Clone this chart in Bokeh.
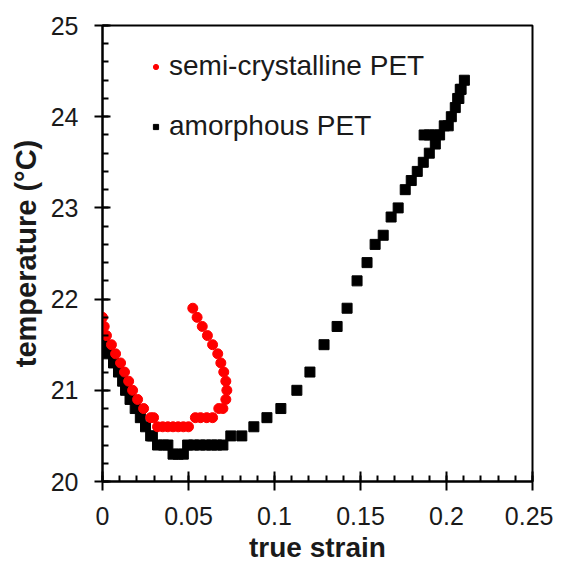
import numpy as np
from bokeh.plotting import figure
from bokeh.models import FixedTicker, Range1d, Legend, LegendItem
from bokeh.embed import file_html
from bokeh.resources import INLINE

# ---- data ----
semi_strain = [0.000, 0.001, 0.0023, 0.0052, 0.0076, 0.0105, 0.0128, 0.0152, 0.0175,
               0.0204, 0.0239, 0.028, 0.0297,
               0.032, 0.035, 0.038, 0.041, 0.044, 0.047, 0.050,
               0.054, 0.057, 0.0606, 0.064,
               0.0676, 0.070, 0.0717, 0.0723, 0.0717, 0.0705, 0.0688, 0.067,
               0.064, 0.061, 0.058, 0.055, 0.0525]
semi_temp = [21.8, 21.7, 21.6, 21.5, 21.4, 21.3, 21.2, 21.1, 21.0,
             20.9, 20.8, 20.7, 20.7,
             20.6, 20.6, 20.6, 20.6, 20.6, 20.6, 20.6,
             20.7, 20.7, 20.7, 20.7,
             20.8, 20.8, 20.9, 21.0, 21.1, 21.2, 21.3, 21.4,
             21.5, 21.6, 21.7, 21.8, 21.9]

amor_strain = [0.001, 0.003, 0.0064, 0.0093, 0.0117, 0.0134, 0.016, 0.019, 0.022, 0.025,
               0.028, 0.029, 0.032, 0.0355, 0.038,
               0.041, 0.044, 0.047,
               0.0495, 0.053, 0.0566, 0.060, 0.0635, 0.0664, 0.070,
               0.0746, 0.081, 0.088, 0.0956, 0.1037, 0.113, 0.1206, 0.1288, 0.1364,
               0.1422, 0.148, 0.1538, 0.1585, 0.1632, 0.1678, 0.1719, 0.176, 0.1795,
               0.183, 0.1865, 0.190, 0.1935,
               0.187, 0.190, 0.193, 0.196,
               0.1987, 0.201, 0.2028, 0.2051, 0.2065, 0.2072, 0.208, 0.2085, 0.2104]
amor_temp = [21.5, 21.4, 21.3, 21.2, 21.1, 21.0, 20.9, 20.8, 20.7, 20.6,
             20.5, 20.5, 20.4, 20.4, 20.4,
             20.3, 20.3, 20.3,
             20.4, 20.4, 20.4, 20.4, 20.4, 20.4, 20.4,
             20.5, 20.5, 20.6, 20.7, 20.8, 21.0, 21.2, 21.5, 21.7,
             21.9, 22.2, 22.4, 22.6, 22.7, 22.9, 23.0, 23.2, 23.3,
             23.4, 23.5, 23.6, 23.7,
             23.8, 23.8, 23.8, 23.8,
             23.9, 23.9, 24.0, 24.1, 24.2, 24.2, 24.3, 24.3, 24.4]

x_ticks = [0, 0.05, 0.1, 0.15, 0.2, 0.25]
x_tick_labels = ["0", "0.05", "0.1", "0.15", "0.2", "0.25"]
y_ticks = [20, 21, 22, 23, 24, 25]
y_tick_labels = ["20", "21", "22", "23", "24", "25"]

FONT = "Liberation Sans"

p = figure(width=553, height=565, output_backend="svg", toolbar_location=None,
           x_range=Range1d(0, 0.25), y_range=Range1d(20, 25),
           min_border_left=102, min_border_right=21, min_border_top=25,
           min_border_bottom=83)
p.grid.visible = False
p.outline_line_color = "black"
p.outline_line_width = 2
p.background_fill_color = "white"
p.border_fill_color = "white"

r_black = p.scatter(amor_strain, amor_temp, marker="square", size=10,
                    fill_color="black", line_color="black")
r_red = p.scatter(semi_strain, semi_temp, marker="circle", size=10,
                  fill_color="#ff0000", line_color="#ff0000")

p.xaxis.ticker = FixedTicker(ticks=x_ticks,
                             minor_ticks=list(np.round(np.arange(0, 0.2501, 0.01), 3)))
p.xaxis.major_label_overrides = {t: l for t, l in zip(x_ticks, x_tick_labels)}
p.yaxis.ticker = FixedTicker(ticks=y_ticks,
                             minor_ticks=list(np.round(np.arange(20, 25.01, 0.2), 1)))
p.yaxis.major_label_overrides = {t: l for t, l in zip(y_ticks, y_tick_labels)}

for ax in (p.xaxis[0], p.yaxis[0]):
    ax.axis_line_width = 2
    ax.axis_line_color = "black"
    ax.major_tick_line_width = 2
    ax.minor_tick_line_width = 2
    ax.major_tick_line_color = "black"
    ax.minor_tick_line_color = "black"
    ax.minor_tick_in = 6
    ax.minor_tick_out = 0
    ax.major_label_text_font = FONT
    ax.major_label_text_font_size = "25px"
    ax.major_label_text_color = "#1a1a1a"
    ax.axis_label_text_font = FONT
    ax.axis_label_text_font_style = "bold"
    ax.axis_label_text_color = "#1a1a1a"

p.xaxis.axis_label_text_font_size = "28px"
p.yaxis.axis_label_text_font_size = "29px"
p.xaxis.major_tick_in = 10
p.xaxis.major_tick_out = 9
p.yaxis.major_tick_in = 8
p.yaxis.major_tick_out = 8
p.xaxis.major_label_standoff = 16
p.yaxis.major_label_standoff = 16
p.xaxis.axis_label = "true strain"
p.yaxis.axis_label = "temperature (°C)"
p.xaxis.axis_label_standoff = 4
p.yaxis.axis_label_standoff = 6

legend = Legend(items=[LegendItem(label="semi-crystalline PET", renderers=[r_red]),
                       LegendItem(label="amorphous PET", renderers=[r_black])],
                location=(47, 339), glyph_width=13, glyph_height=13,
                label_text_font=FONT, label_text_font_size="28px",
                label_text_color="#1a1a1a", label_standoff=7, spacing=28,
                padding=0, margin=0, border_line_color=None,
                background_fill_alpha=0)
p.add_layout(legend)

open("out.html", "w").write(file_html(p, INLINE))
